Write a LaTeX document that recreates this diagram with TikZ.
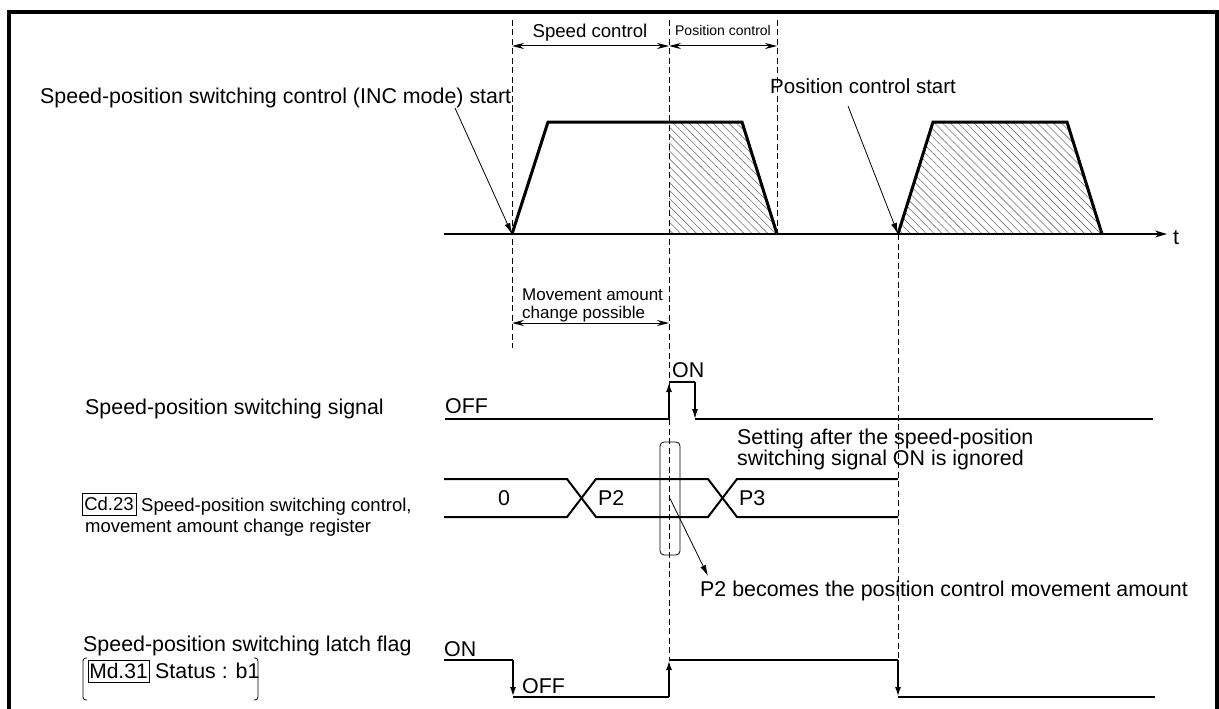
\documentclass[tikz,border=0pt]{standalone}
\usepackage{fontspec}
\setmainfont{Liberation Sans}
\usetikzlibrary{arrows.meta,patterns.meta}
\begin{document}
\begin{tikzpicture}[x=1pt,y=-1pt,
  lab/.style={inner sep=0pt,anchor=base west,font=\fontsize{21.4}{21}\selectfont},
  labs/.style={inner sep=0pt,anchor=base west,font=\fontsize{18.5}{22}\selectfont},
  dashline/.style={line width=0.9pt,dash pattern=on 6pt off 3.5pt},
  sig/.style={line width=2pt},
  sigthin/.style={line width=1.2pt},
  uparr/.style={line width=2pt,-{Latex[length=10pt,width=6pt]}},
  thinarr/.style={line width=1.2pt,-{Latex[length=10pt,width=6pt]}},
  dimarr/.style={{Stealth[length=12pt,width=6pt]}-{Stealth[length=12pt,width=6pt]},line width=1pt},
  callout/.style={line width=0.8pt,-{Latex[length=11pt,width=6pt]}},
  prof/.style={line width=3pt,line join=miter},
  hatch/.style={pattern={Lines[angle=-45,distance=5.6pt,line width=0.6pt]},pattern color=black!55}
]
\useasboundingbox (0,0) rectangle (1219,709);
% frame
\draw[line width=4pt] (9,709) -- (9,12) -- (1217,12) -- (1217,709);

% key coordinates
\coordinate (s0) at (512,234);
\coordinate (s1t) at (548,122);
\coordinate (s1u) at (742,122);
\coordinate (e0) at (777,234);
\coordinate (s2) at (898,234);
\coordinate (s2t) at (933,122);
\coordinate (s2u) at (1067,122);
\coordinate (e2) at (1102,234);
\coordinate (ax0) at (444,234);
\coordinate (ax1) at (1167,234);

% hatching
\fill[hatch] (669,122) -- (s1u) -- (e0) -- (669,234) -- cycle;
\fill[hatch] (s2) -- (s2t) -- (s2u) -- (e2) -- cycle;

% axis
\draw[line width=1.2pt,-{Stealth[length=12pt,width=7pt]}] (ax0) -- (ax1);
\node[lab] (tl) at (1173,244) {t};

% profiles
\draw[prof] (s0) -- (s1t) -- (s1u) -- (e0);
\draw[prof] (s2) -- (s2t) -- (s2u) -- (e2);

% dashed lines
\draw[dashline] (512,20) -- (512,348);
\draw[dashline] (669,20) -- (669,660);
\draw[dashline] (777,20) -- (777,234);
\draw[dashline] (898,234) -- (898,660);

% dimension arrows
\coordinate (d1a) at (512,46);
\coordinate (d1b) at (669,46);
\coordinate (d1c) at (777,46);
\draw[dimarr] (d1a) -- (d1b);
\draw[dimarr] (d1b) -- (d1c);
\node[inner sep=0pt,anchor=base,font=\fontsize{18.6}{22}\selectfont] (spc) at (590,38) {Speed control};
\node[inner sep=0pt,anchor=base,font=\fontsize{14}{17}\selectfont] (poc) at (723,36) {Position control};
\coordinate (m1a) at (512,323);
\coordinate (m1b) at (669,323);
\draw[dimarr] (m1a) -- (m1b);
\node[inner sep=0pt,anchor=base west,font=\fontsize{17}{18}\selectfont,align=left] (mac) at (522,318) {Movement amount\\change possible};

% start callouts
\node[lab] (stl) at (40,103) {Speed-position switching control (INC mode) start};
\coordinate (c1) at (455,108);
\draw[callout] (c1) -- (s0);
\node[lab,font=\fontsize{20.5}{21}\selectfont] (pcl) at (770,94) {Position control start};
\coordinate (c2) at (848,106);
\draw[callout] (c2) -- (s2);

% speed-position switching signal
\node[lab] (sl1) at (85,414) {Speed-position switching signal};
\node[lab] (off1) at (445,413) {OFF};
\node[lab] (on1) at (672,377) {ON};
\draw[sig] (445,419) -- (669,419);
\draw[uparr] (669,419) -- (669,382);
\draw[sigthin] (669,382) -- (695,382);
\draw[thinarr] (695,382) -- (695,419);
\draw[sigthin] (695,419) -- (1153,419);
\node[lab,align=left] (set) at (737,465) {Setting after the speed-position\\switching signal ON is ignored};

% register
\node[inner sep=0pt,draw,line width=0.8pt,minimum width=54pt,minimum height=22pt,font=\fontsize{18.5}{22}\selectfont] (cd) at (109,504) {Cd.23};
\node[labs] (cdt) at (141,511) {Speed-position switching control,};
\node[labs] (cdt2) at (85,532) {movement amount change register};
\draw[sig] (444,479) -- (567,479) -- (596,517) -- (708,517) -- (737,479) -- (898,479);
\draw[sig] (444,517) -- (567,517) -- (596,479) -- (708,479) -- (737,517) -- (898,517);
\node[lab] (r0) at (498,505) {0};
\node[lab] (rp2) at (598,505) {P2};
\node[lab] (rp3) at (739,505) {P3};
\node[draw,line width=0.8pt,rounded corners=4pt,inner sep=0pt,minimum width=20pt,minimum height=113pt] (selbox) at (670,498.5) {};
\coordinate (c3) at (708,576);
\draw[callout] (selbox.center) -- (c3);
\node[lab] (p2b) at (700,596) {P2 becomes the position control movement amount};

% latch flag
\node[lab] (ll1) at (83,651) {Speed-position switching latch flag};
\node[inner sep=0pt,draw,line width=0.9pt,minimum width=61pt,minimum height=22pt,font=\fontsize{21}{25}\selectfont] (md) at (118.5,671) {Md.31};
\node[lab] (stt) at (155,678) {Status : b1};
\draw[line width=0.8pt,rounded corners=3pt] (87,658) -- (83,658) -- (83,700) -- (87,700);
\draw[line width=0.8pt,rounded corners=3pt] (254,658) -- (258,658) -- (258,700) -- (254,700);
\node[lab] (on2) at (444,656) {ON};
\node[lab] (off2) at (522,693) {OFF};
\draw[sig] (444,660) -- (513,660);
\draw[uparr] (513,660) -- (513,697);
\draw[sig] (513,697) -- (669,697);
\draw[uparr] (669,697) -- (669,660);
\draw[sig] (669,660) -- (898,660);
\draw[uparr] (898,660) -- (898,697);
\draw[sig] (898,697) -- (1155,697);
\end{tikzpicture}
\end{document}
